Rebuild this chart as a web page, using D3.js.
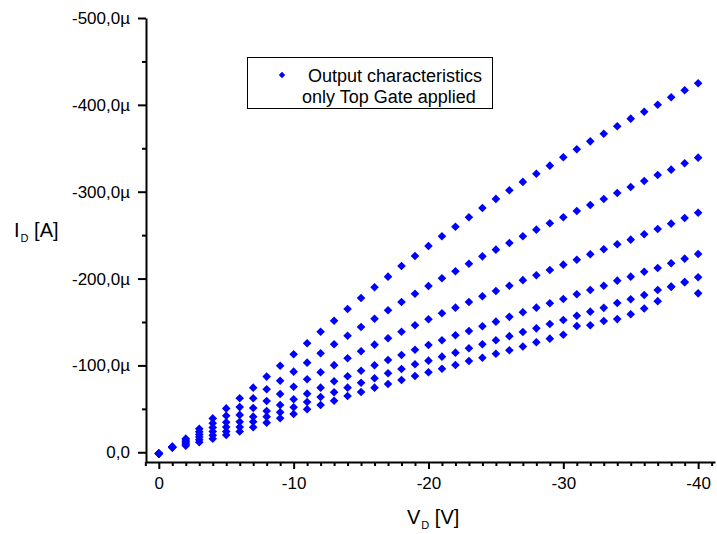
<!DOCTYPE html>
<html>
<head>
<meta charset="utf-8">
<script src="https://cdn.jsdelivr.net/npm/d3@7"></script>
<style>
  html, body { margin: 0; padding: 0; background: #fff; }
  svg { display: block; font-family: "Liberation Sans", Arial, sans-serif; }
</style>
</head>
<body>
<svg id="chart" width="717" height="534"></svg>
<script>
// Drain voltage sweep (V)
const vd = [0, -1, -2, -3, -4, -5, -6, -7, -8, -9, -10, -11, -12, -13, -14, -15, -16, -17, -18, -19, -20,
  -21, -22, -23, -24, -25, -26, -27, -28, -29, -30, -31, -32, -33, -34, -35, -36, -37, -38, -39, -40];

// Drain current (µA), one curve per top-gate voltage step
const id1 = [1.5, -6.5, -15.7, -27.0, -39.0, -50.5, -62.2, -74.4, -87.1, -99.7, -112.8, -125.5, -138.8, -151.5, -165.0, -177.6, -190.0, -202.2, -214.5, -226.0, -237.5,
  -248.7, -259.7, -270.6, -281.3, -291.7, -301.6, -311.3, -320.7, -330.0, -339.6, -348.8, -358.0, -366.8, -375.3, -384.1, -392.1, -400.2, -408.7, -416.8, -424.8];
const id2 = [1.5, -6.2, -14.0, -23.5, -33.5, -42.0, -52.0, -62.2, -72.5, -82.4, -92.8, -103.2, -114.0, -124.3, -134.2, -144.3, -153.8, -163.5, -173.1, -182.6, -191.5,
  -200.3, -208.4, -217.1, -225.6, -233.3, -241.0, -248.7, -256.3, -263.6, -270.6, -277.8, -284.7, -291.6, -298.5, -305.4, -312.3, -319.2, -325.4, -332.7, -339.2];
const id3 = [1.5, -6.0, -12.4, -20.5, -28.5, -34.5, -43.0, -51.0, -59.1, -67.1, -75.5, -84.0, -92.1, -100.3, -108.2, -116.3, -123.9, -131.2, -138.8, -146.2, -153.1,
  -160.0, -166.5, -173.0, -179.6, -185.7, -191.8, -198.2, -203.8, -209.9, -216.0, -221.7, -228.0, -233.7, -239.5, -244.8, -251.0, -257.1, -263.2, -269.7, -275.8];
const id4 = [1.5, -5.8, -10.8, -17.5, -24.0, -29.0, -35.0, -41.0, -47.5, -54.5, -61.0, -67.5, -74.4, -81.7, -87.5, -93.9, -100.2, -106.3, -112.0, -118.1, -123.5,
  -128.9, -134.7, -139.7, -145.1, -150.4, -155.9, -161.2, -166.5, -171.5, -176.5, -181.9, -186.9, -191.8, -197.6, -202.2, -207.9, -212.2, -217.6, -222.9, -228.3];
const id5 = [1.5, -5.6, -9.2, -14.5, -19.5, -24.0, -29.0, -35.2, -41.0, -46.1, -51.8, -57.9, -63.7, -69.1, -74.4, -80.1, -85.2, -91.0, -95.9, -101.3, -105.5,
  -110.1, -114.7, -119.7, -124.3, -128.9, -133.7, -138.4, -142.7, -147.7, -152.3, -157.1, -161.9, -166.3, -171.9, -176.1, -181.1, -186.8, -190.7, -195.7, -201.5];
const id6 = [1.5, -5.4, -7.6, -11.5, -15.5, -20.0, -24.0, -28.8, -34.1, -39.1, -44.1, -49.5, -54.5, -59.4, -64.8, -69.4, -74.4, -78.6, -83.2, -87.8, -92.1,
  -96.2, -100.5, -105.1, -108.9, -113.5, -117.4, -121.8, -126.6, -130.8, -135.3, -145.3, -146.2, -151.2, -153.3, -158.9, -165.5, -174.0, -190.5, -196.0, -183.0];
const curves = [id1, id2, id3, id4, id5, id6];

// Axis ticks and labels
const xMajor = [0, -10, -20, -30, -40];
const xMajorLabels = ["0", "-10", "-20", "-30", "-40"];
const yMajor = [0, -100, -200, -300, -400, -500];
const yMajorLabels = ["0,0", "-100,0µ", "-200,0µ", "-300,0µ", "-400,0µ", "-500,0µ"];
const legendLines = ["Output characteristics", "only Top Gate applied"];

const svg = d3.select("#chart");
const blue = "#0000ff";
const font = "Liberation Sans, Arial, sans-serif";

const x = d3.scaleLinear().domain([0.95, -41.25]).range([146, 715]);
const y = d3.scaleLinear().domain([11.2, -500]).range([462, 18]);

// minor ticks every 1 V and every 50 µA
const xMinor = d3.range(1, -42, -1).filter(v => v % 10 !== 0);
const yMinor = d3.range(-50, -500, -100);

// markers
const diamond = r => `M0,${-r}L${r},0L0,${r}L${-r},0Z`;
const plot = svg.append("g");
curves.forEach(c => {
  plot.append("g").selectAll("path")
    .data(vd.map((v, i) => [v, c[i]]))
    .join("path")
    .attr("d", diamond(4.3))
    .attr("transform", d => `translate(${x(d[0])},${y(d[1])})`)
    .attr("fill", blue);
});

// x axis
const gx = svg.append("g").attr("transform", "translate(0,462)");
gx.append("g").call(d3.axisBottom(x).tickValues(xMinor).tickSize(4).tickSizeOuter(0).tickFormat(""))
  .call(g => g.select(".domain").remove());
gx.append("g").call(d3.axisBottom(x).tickValues(xMajor).tickSize(7).tickSizeOuter(0)
    .tickFormat((d, i) => xMajorLabels[i]).tickPadding(8))
  .call(g => g.select(".domain").attr("stroke-width", 2))
  .call(g => g.selectAll("text").attr("font-size", 17).attr("fill", "#000").attr("font-family", font));
gx.selectAll(".tick line").attr("stroke-width", 2).attr("stroke", "#000");

// y axis
const gy = svg.append("g").attr("transform", "translate(146,0)");
gy.append("g").call(d3.axisLeft(y).tickValues(yMinor).tickSize(4).tickSizeOuter(0).tickFormat(""))
  .call(g => g.select(".domain").remove());
gy.append("g").call(d3.axisLeft(y).tickValues(yMajor).tickSize(8).tickSizeOuter(0)
    .tickFormat((d, i) => yMajorLabels[i]).tickPadding(8))
  .call(g => g.select(".domain").attr("stroke-width", 2))
  .call(g => g.selectAll("text").attr("font-size", 17).attr("fill", "#000").attr("font-family", font));
gy.selectAll(".tick line").attr("stroke-width", 2).attr("stroke", "#000");

// axis titles with subscripts
function title(xp, yp, main, sub, rest) {
  const t = svg.append("text").attr("x", xp).attr("y", yp)
    .attr("font-size", 20).attr("fill", "#000");
  t.append("tspan").text(main);
  t.append("tspan").attr("font-size", 11).attr("dy", 5).attr("dx", 1).text(sub);
  t.append("tspan").attr("dy", -5).text(rest);
}
title(407, 524, "V", "D", " [V]");
title(14, 237, "I", "D", " [A]");

// legend
const lg = svg.append("g");
lg.append("rect").attr("x", 247.5).attr("y", 57.5).attr("width", 245).attr("height", 51)
  .attr("fill", "#fff").attr("stroke", "#000").attr("stroke-width", 1);
lg.append("path").attr("d", diamond(3.2)).attr("transform", "translate(282,75)").attr("fill", blue);
lg.append("text").attr("x", 308).attr("y", 82).attr("font-size", 18).text(legendLines[0]);
lg.append("text").attr("x", 302).attr("y", 103).attr("font-size", 18).text(legendLines[1]);
</script>
</body>
</html>
